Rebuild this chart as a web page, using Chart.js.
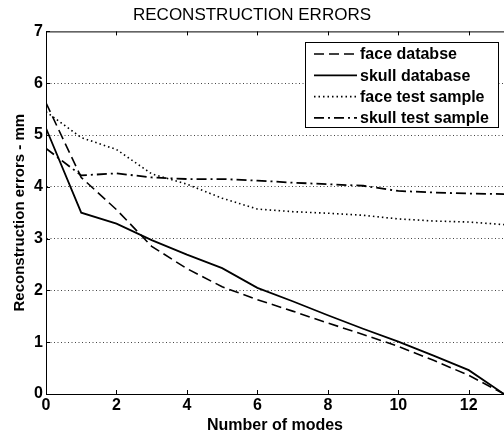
<!DOCTYPE html>
<html>
<head>
<meta charset="utf-8">
<script src="https://cdn.jsdelivr.net/npm/chart.js@4.4.1/dist/chart.umd.min.js"></script>
<style>
  html, body { margin: 0; padding: 0; background: #fff; }
  #wrap { width: 504px; height: 437px; }
</style>
</head>
<body>
<div id="wrap"><canvas id="chart"></canvas></div>
<script>
// values
const modes = [0, 1, 2, 3, 4, 5, 6, 7, 8, 9, 10, 11, 12, 13];
const faceDatabase = [5.62, 4.18, 3.56, 2.85, 2.42, 2.07, 1.82, 1.60, 1.37, 1.15, 0.92, 0.65, 0.36, 0];
const skullDatabase = [5.13, 3.50, 3.29, 2.97, 2.69, 2.43, 2.05, 1.79, 1.52, 1.26, 1.01, 0.74, 0.46, 0];
const faceTestSample = [5.45, 4.95, 4.72, 4.25, 4.05, 3.78, 3.57, 3.52, 3.49, 3.45, 3.38, 3.34, 3.32, 3.27];
const skullTestSample = [4.74, 4.22, 4.26, 4.18, 4.15, 4.15, 4.12, 4.08, 4.05, 4.02, 3.92, 3.89, 3.87, 3.86];
const seriesNames = ['face databse', 'skull database', 'face test sample', 'skull test sample'];

const FONT = "'Liberation Sans', Arial, sans-serif";

function toPoints(vals) {
  return vals.map((v, i) => ({ x: modes[i], y: v }));
}

// matlab-like frame: top border + inward ticks
const frame = {
  id: 'frame',
  beforeDatasetsDraw(chart) {
    const { ctx, chartArea: a, scales: { x, y } } = chart;
    ctx.save();
    ctx.strokeStyle = '#000';
    ctx.lineWidth = 1;
    ctx.beginPath();
    ctx.moveTo(a.left, a.top + 0.5);
    ctx.lineTo(a.right, a.top + 0.5);
    x.ticks.forEach(t => {
      const px = Math.round(x.getPixelForValue(t.value)) + 0.5;
      ctx.moveTo(px, a.bottom); ctx.lineTo(px, a.bottom - 4);
      ctx.moveTo(px, a.top); ctx.lineTo(px, a.top + 4);
    });
    y.ticks.forEach(t => {
      const py = Math.round(y.getPixelForValue(t.value)) + 0.5;
      ctx.moveTo(a.left, py); ctx.lineTo(a.left + 4, py);
    });
    ctx.stroke();
    ctx.restore();
  }
};

// boxed legend in the upper right, like the original
const boxLegend = {
  id: 'boxLegend',
  afterDatasetsDraw(chart) {
    const ctx = chart.ctx;
    const left = 305.5, top = 42.5, right = 498.5, bottom = 127.5;
    ctx.save();
    ctx.fillStyle = '#fff';
    ctx.fillRect(left, top, right - left, bottom - top);
    ctx.strokeStyle = '#000';
    ctx.lineWidth = 1;
    ctx.strokeRect(left, top, right - left, bottom - top);
    ctx.font = 'bold 16px ' + FONT;
    ctx.textBaseline = 'middle';
    ctx.fillStyle = '#000';
    chart.data.datasets.forEach((ds, i) => {
      const ry = 54 + i * 21.3;
      ctx.save();
      ctx.lineWidth = ds.borderWidth;
      ctx.setLineDash(ds.borderDash || []);
      ctx.beginPath();
      ctx.moveTo(314, ry);
      ctx.lineTo(357, ry);
      ctx.stroke();
      ctx.restore();
      ctx.fillText(ds.label, 360, ry + 1);
    });
    ctx.restore();
  }
};

new Chart(document.getElementById('chart'), {
  type: 'line',
  data: {
    datasets: [{
      label: seriesNames[0],
      data: toPoints(faceDatabase),
      borderColor: '#000',
      borderWidth: 1.6,
      borderDash: [10, 5]
    }, {
      label: seriesNames[1],
      data: toPoints(skullDatabase),
      borderColor: '#000',
      borderWidth: 1.8
    }, {
      label: seriesNames[2],
      data: toPoints(faceTestSample),
      borderColor: '#000',
      borderWidth: 1.6,
      borderDash: [1.5, 3]
    }, {
      label: seriesNames[3],
      data: toPoints(skullTestSample),
      borderColor: '#000',
      borderWidth: 1.8,
      borderDash: [10, 4, 2, 4]
    }]
  },
  options: {
    responsive: true,
    maintainAspectRatio: false,
    animation: false,
    layout: { padding: 0 },
    elements: { point: { radius: 0 }, line: { tension: 0 } },
    plugins: {
      legend: { display: false },
      tooltip: { enabled: false },
      title: {
        display: true,
        text: 'RECONSTRUCTION ERRORS',
        color: '#000',
        font: { family: FONT, size: 17, weight: 'normal' },
        padding: { top: 5, bottom: 6 }
      }
    },
    scales: {
      x: {
        type: 'linear',
        min: 0,
        max: 13,
        ticks: {
          stepSize: 2,
          includeBounds: false,
          color: '#000',
          padding: 2,
          maxRotation: 0,
          font: { family: FONT, size: 16, weight: 'bold' }
        },
        grid: { display: false, drawTicks: false },
        border: { display: true, color: '#000', width: 1 },
        title: {
          display: true,
          text: 'Number of modes',
          color: '#000',
          font: { family: FONT, size: 16, weight: 'bold' },
          padding: { top: 0, bottom: 2 }
        },
        afterBuildTicks(scale) {
          scale.ticks = scale.ticks.filter(t => t.value % 2 === 0);
        },
        afterFit(scale) { scale.height = 43; }
      },
      y: {
        min: 0,
        max: 7,
        ticks: {
          stepSize: 1,
          color: '#000',
          padding: 3,
          font: { family: FONT, size: 16, weight: 'bold' }
        },
        grid: {
          drawTicks: false,
          color: ctx => (ctx.tick && (ctx.tick.value === 0 || ctx.tick.value === 7)) ? 'rgba(0,0,0,0)' : '#444',
          lineWidth: 1
        },
        border: { display: true, color: '#000', width: 1, dash: [1, 2.5] },
        title: {
          display: true,
          text: 'Reconstruction errors - mm',
          color: '#000',
          font: { family: FONT, size: 15, weight: 'bold' },
          padding: { top: 11, bottom: 0 }
        },
        afterFit(scale) { scale.width = 46; }
      }
    }
  },
  plugins: [frame, boxLegend]
});
</script>
</body>
</html>
